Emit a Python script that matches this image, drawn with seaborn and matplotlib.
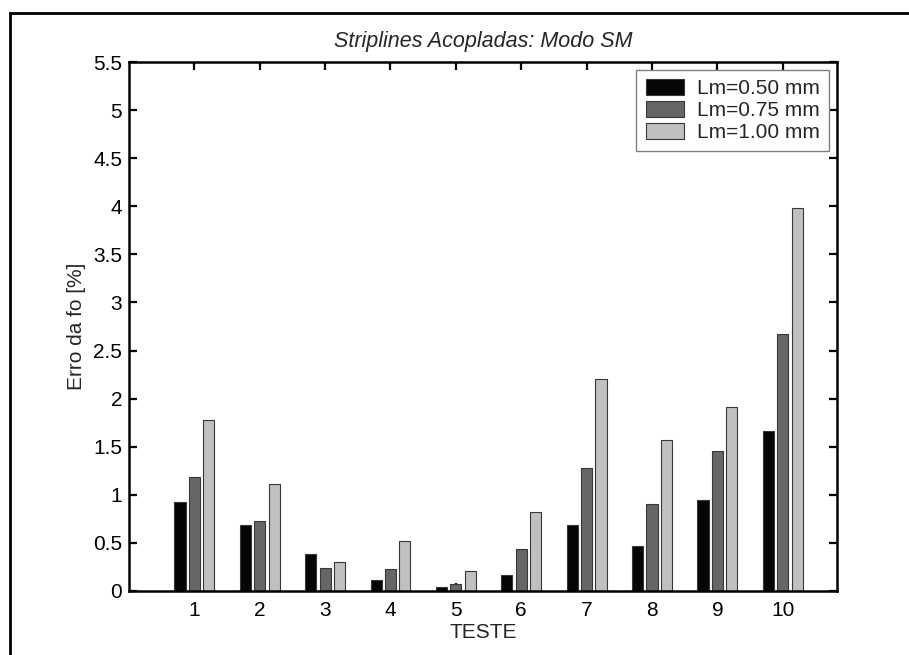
import numpy as np
import pandas as pd
import matplotlib
matplotlib.use("Agg")
import matplotlib.pyplot as plt
from matplotlib.patches import Rectangle
import seaborn as sns

# ---- data ----
tests = ["1", "2", "3", "4", "5", "6", "7", "8", "9", "10"]
series_names = ["Lm=0.50 mm", "Lm=0.75 mm", "Lm=1.00 mm"]
lm050 = [0.93, 0.684, 0.382, 0.111, 0.038, 0.163, 0.690, 0.472, 0.947, 1.665]
lm075 = [1.186, 0.732, 0.240, 0.226, 0.070, 0.434, 1.284, 0.909, 1.457, 2.671]
lm100 = [1.773, 1.110, 0.306, 0.524, 0.212, 0.826, 2.206, 1.575, 1.908, 3.985]
colors = ["#050505", "#666666", "#c0c0c0"]
yticks = [0, 0.5, 1, 1.5, 2, 2.5, 3, 3.5, 4, 4.5, 5, 5.5]
ytick_labels = ["0", "0.5", "1", "1.5", "2", "2.5", "3", "3.5", "4", "4.5", "5", "5.5"]

rows = []
for name, vals in zip(series_names, [lm050, lm075, lm100]):
    for t, v in zip(tests, vals):
        rows.append({"TESTE": t, "serie": name, "erro": v})
df = pd.DataFrame(rows)

sns.set_style("ticks")
plt.rcParams["font.family"] = ["Liberation Sans", "DejaVu Sans"]

fig = plt.figure(figsize=(9.09, 6.55), dpi=100)
ax = fig.add_axes([129 / 909, 1 - 591 / 655, (837 - 129) / 909, (591 - 62) / 655])

sns.barplot(data=df, x="TESTE", y="erro", hue="serie", order=tests,
            hue_order=series_names, palette=colors, saturation=1,
            width=0.66, gap=0.23, edgecolor="#383838", linewidth=0.8,
            errorbar=None, ax=ax)

ax.set_xlim(-1, 9.83)
ax.set_ylim(0, 5.5)
ax.set_yticks(yticks)
ax.set_yticklabels(ytick_labels)

for s in ax.spines.values():
    s.set_visible(True)
    s.set_linewidth(1.8)
    s.set_color("black")

ax.tick_params(axis="both", which="both", direction="in", length=6, width=1.6,
               top=True, right=True, labelsize=15, colors="black")
ax.tick_params(axis="x", pad=7)
ax.tick_params(axis="y", pad=5)

ax.set_xlabel("TESTE", fontsize=15, labelpad=2)
ax.set_ylabel("Erro da fo [%]", fontsize=15, labelpad=5)
ax.set_title("Striplines Acopladas: Modo SM", fontsize=15.5, style="italic", pad=11)

leg = ax.legend(loc="upper right", bbox_to_anchor=(1, 1), borderaxespad=0.38,
                fontsize=15, frameon=True, fancybox=False, framealpha=1,
                edgecolor="#808080", handlelength=1.85, handleheight=0.8,
                handletextpad=0.6, labelspacing=0.12, borderpad=0.45)
leg.get_frame().set_linewidth(1.0)

# outer frame (cropped at right and bottom in the reference)
fig.patches.append(Rectangle((10 / 909, -0.5), 2.0, (655 - 13) / 655 + 0.5,
                             transform=fig.transFigure, fill=False,
                             edgecolor="black", linewidth=2.0))

fig.savefig("out.png", dpi=100, facecolor="white")
